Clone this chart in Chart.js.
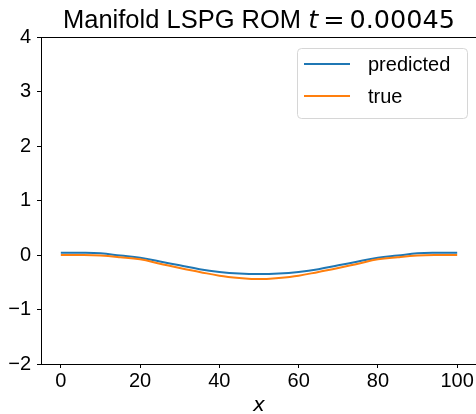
<!DOCTYPE html>
<html>
<head>
<meta charset="utf-8">
<script src="https://cdn.jsdelivr.net/npm/chart.js@4.4.1/dist/chart.umd.min.js"></script>
<style>
  html, body { margin: 0; padding: 0; background: #fff; overflow: hidden; }
  #wrap { width: 476px; height: 414px; overflow: hidden; }
</style>
</head>
<body>
<div id="wrap"><canvas id="chart" width="480" height="414"></canvas></div>
<script>
// values
const xValues = [0, 5, 10, 15, 20, 25, 30, 35, 40, 45, 50, 55, 60, 65, 70, 75, 80, 85, 90, 95, 100];
const predicted = [0.04, 0.04, 0.03, -0.01, -0.05, -0.12, -0.19, -0.26, -0.31, -0.34, -0.35, -0.34, -0.31, -0.26, -0.19, -0.12, -0.05, -0.01, 0.03, 0.04, 0.04];
const trueValues = [0.00, 0.00, -0.01, -0.04, -0.08, -0.16, -0.24, -0.31, -0.38, -0.42, -0.44, -0.42, -0.38, -0.31, -0.24, -0.16, -0.08, -0.04, -0.01, 0.00, 0.00];
const xTicks = [0, 20, 40, 60, 80, 100];
const yTicks = [-2, -1, 0, 1, 2, 3, 4];
const seriesNames = ['predicted', 'true'];
const seriesColors = ['#1f77b4', '#ff7f0e'];

const tickFont = { family: 'Liberation Sans, Arial, sans-serif', size: 20 };

function toPoints(ys) {
  return xValues.map((x, i) => ({ x: x, y: ys[i] }));
}

// title with italic t, like matplotlib mathtext
const titlePlugin = {
  id: 'mplTitle',
  afterDraw(chart) {
    const ctx = chart.ctx;
    const area = chart.chartArea;
    const f1 = '25.5px "Liberation Sans", Arial, sans-serif';
    const f2 = 'italic 25.5px "DejaVu Sans", sans-serif';
    const f3 = '25.5px "DejaVu Sans", sans-serif';
    const s1 = 'Manifold LSPG ROM ';
    const gap = 5;
    ctx.save();
    ctx.fillStyle = '#000';
    ctx.textBaseline = 'alphabetic';
    ctx.font = f1; const w1 = ctx.measureText(s1).width;
    ctx.font = f2; const w2 = ctx.measureText('t').width;
    ctx.font = f3; const we = ctx.measureText('=').width; const w4 = ctx.measureText('0.00045').width;
    const total = w1 + w2 + gap + we + gap + w4;
    let x = (area.left + area.right) / 2 - total / 2;
    const y = 28;
    ctx.textAlign = 'left';
    ctx.font = f1; ctx.fillText(s1, x, y); x += w1;
    ctx.font = f2; ctx.fillText('t', x, y); x += w2 + gap;
    ctx.font = f3; ctx.fillText('=', x, y); x += we + gap;
    ctx.fillText('0.00045', x, y);
    ctx.restore();
  }
};

// top spine and legend box
const framePlugin = {
  id: 'mplFrame',
  afterDraw(chart) {
    const ctx = chart.ctx;
    const a = chart.chartArea;
    ctx.save();
    ctx.strokeStyle = '#000';
    ctx.lineWidth = 1;
    ctx.beginPath();
    ctx.moveTo(a.left, Math.round(a.top) + 0.5);
    ctx.lineTo(a.right, Math.round(a.top) + 0.5);
    ctx.stroke();

    // legend
    const bx = 297.5, by = 48.5, bw = 170, bh = 70, r = 4;
    ctx.beginPath();
    ctx.roundRect(bx, by, bw, bh, r);
    ctx.fillStyle = 'rgba(255,255,255,0.8)';
    ctx.fill();
    ctx.strokeStyle = '#d6d6d6';
    ctx.stroke();
    ctx.font = '20px "Liberation Sans", Arial, sans-serif';
    ctx.textBaseline = 'middle';
    ctx.textAlign = 'left';
    seriesNames.forEach((name, i) => {
      const ly = 64 + i * 32;
      ctx.strokeStyle = seriesColors[i];
      ctx.lineWidth = 2;
      ctx.beginPath();
      ctx.moveTo(304, ly);
      ctx.lineTo(350, ly);
      ctx.stroke();
      ctx.fillStyle = '#000';
      ctx.fillText(name, 368, ly + 1);
    });
    ctx.restore();
  }
};

new Chart(document.getElementById('chart'), {
  type: 'line',
  data: {
    datasets: [
      { label: seriesNames[0], data: toPoints(predicted), borderColor: seriesColors[0], borderWidth: 2, pointRadius: 0, tension: 0.4, order: 1 },
      { label: seriesNames[1], data: toPoints(trueValues), borderColor: seriesColors[1], borderWidth: 2, pointRadius: 0, tension: 0.4, order: 0 }
    ]
  },
  options: {
    responsive: false,
    animation: false,
    layout: { padding: { top: 37, right: 3, bottom: 0, left: 0 } },
    plugins: { legend: { display: false }, tooltip: { enabled: false }, title: { display: false } },
    scales: {
      x: {
        type: 'linear',
        min: -5,
        max: 105,
        afterFit(scale) { scale.height = 50; },
        afterBuildTicks(scale) { scale.ticks = xTicks.map(v => ({ value: v })); },
        border: { display: true, color: '#000', width: 1 },
        grid: { drawOnChartArea: false, drawTicks: true, tickLength: 4, color: '#000' },
        ticks: { font: tickFont, color: '#000', padding: 1, maxRotation: 0 },
        title: { display: true, text: 'x', font: { family: 'DejaVu Sans', size: 20, style: 'italic' }, color: '#000', padding: { top: 0, bottom: -4 } }
      },
      y: {
        type: 'linear',
        min: -2,
        max: 4,
        afterFit(scale) { scale.width = 41; },
        afterBuildTicks(scale) { scale.ticks = yTicks.map(v => ({ value: v })); },
        border: { display: true, color: '#000', width: 1 },
        grid: { drawOnChartArea: false, drawTicks: true, tickLength: 4, color: '#000' },
        ticks: { font: tickFont, color: '#000', padding: 6, callback: v => String(v).replace('-', '\u2212') }
      }
    }
  },
  plugins: [titlePlugin, framePlugin]
});
</script>
</body>
</html>
